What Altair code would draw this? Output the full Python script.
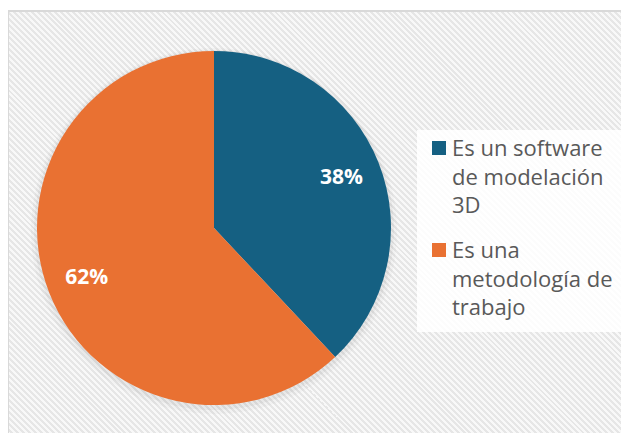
import altair as alt
import pandas as pd

category_lines = [["Es un software", "de modelación", "3D"],
                  ["Es una", "metodología de", "trabajo"]]
values = [38, 62]
labels = ["38%", "62%"]
colors = ["#156082", "#E97132"]

categories = [" ".join(l) for l in category_lines]
df = pd.DataFrame({"cat": categories, "val": values, "lab": labels,
                   "order": [0, 1], "lines": category_lines})

W, H = 613, 422
CX, CY, R = 206, 217, 177

# diagonal hatch background (style only)
N = 174
r = H / W
k = (1 + r) / (1 + r * r)
stops = []
for i in range(N):
    stops += [
        {"color": "#F8F8F8", "offset": i / N},
        {"color": "#F8F8F8", "offset": (i + 0.5) / N},
        {"color": "#E6E6E6", "offset": (i + 0.5) / N},
        {"color": "#E6E6E6", "offset": (i + 1) / N},
    ]
hatch = {"gradient": "linear", "x1": 0, "y1": 1, "x2": k, "y2": 1 - k * r, "stops": stops}

bg = alt.Chart(pd.DataFrame({"a": [0]})).mark_rect(color=hatch).encode(
    x=alt.value(0), x2=alt.value(W), y=alt.value(0), y2=alt.value(H))

border = alt.Chart(pd.DataFrame({"a": [0]})).mark_rect(
    fill=None, stroke="#D9D9D9", strokeWidth=2).encode(
    x=alt.value(0), x2=alt.value(W + 20), y=alt.value(0), y2=alt.value(H + 20))

legend_box = alt.Chart(pd.DataFrame({"a": [0]})).mark_rect(
    color="#FFFFFF", opacity=0.88).encode(
    x=alt.value(409), x2=alt.value(W), y=alt.value(119), y2=alt.value(321))

color = alt.Color("cat:N", scale=alt.Scale(domain=categories, range=colors), legend=None)

base = alt.Chart(df).encode(
    theta=alt.Theta("val:Q", stack=True),
    order=alt.Order("order:Q"),
)

shadow1 = base.mark_arc(radius=R + 6, color="#000000", opacity=0.025, yOffset=3).encode(
    x=alt.value(CX), y=alt.value(CY), detail="cat:N")
shadow2 = base.mark_arc(radius=R + 3, color="#000000", opacity=0.04, yOffset=2).encode(
    x=alt.value(CX), y=alt.value(CY), detail="cat:N")

pie = base.mark_arc(radius=R).encode(x=alt.value(CX), y=alt.value(CY), color=color)

text = base.mark_text(radius=137, font="Open Sans", fontSize=21, fontWeight="bold",
                      color="#FFFFFF", baseline="middle", align="center").encode(
    x=alt.value(CX), y=alt.value(CY), text="lab:N")

ly = alt.Y("order:Q", scale=alt.Scale(domain=[0, 1], range=[145, 247]), axis=None)

leg_sq = alt.Chart(df).mark_square(size=196, opacity=1, yOffset=-8).encode(
    x=alt.value(431), y=ly, color=color)

leg_txt = alt.Chart(df).mark_text(
    font="Open Sans", fontSize=22, color="#595959", align="left",
    baseline="alphabetic", lineHeight=28.5).encode(
    x=alt.value(444), y=ly, text="lines:N")

chart = alt.layer(bg, border, shadow1, shadow2, pie, text, legend_box, leg_sq, leg_txt).properties(
    width=W, height=H, padding={"left": 0, "top": 3, "right": 0, "bottom": 0},
    autosize="none", background="#FFFFFF"
).configure_view(
    fill=None, stroke=None
)

chart.save("out.html", embed_options={"renderer": "svg", "actions": False})
